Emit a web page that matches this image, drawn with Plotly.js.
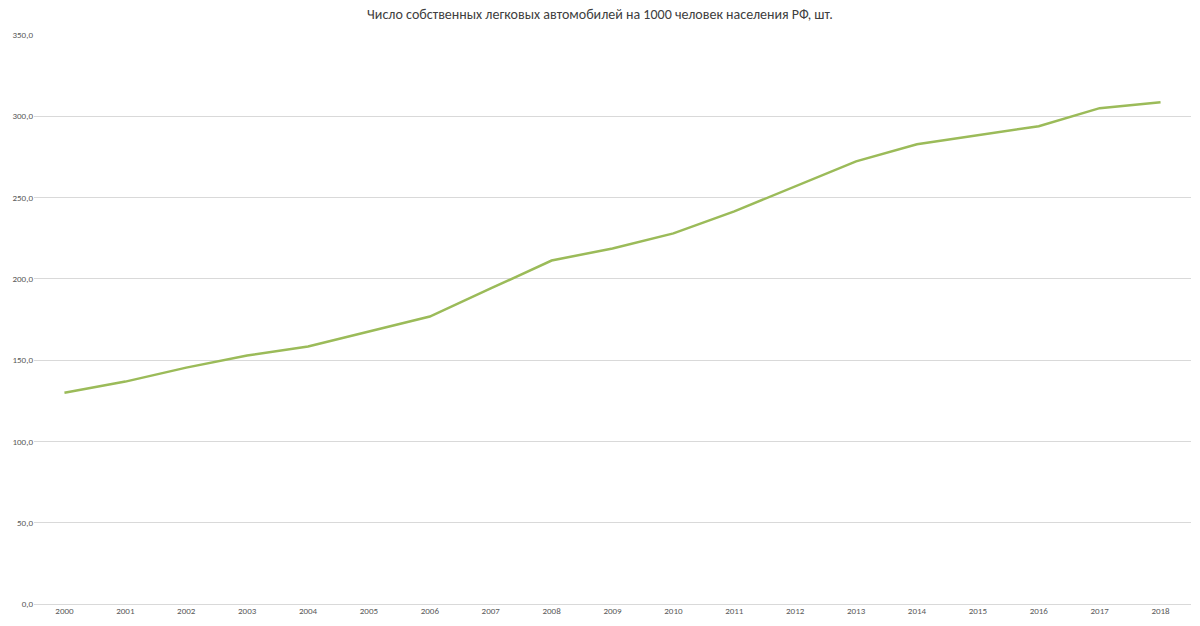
<!DOCTYPE html>
<html>
<head>
<meta charset="utf-8">
<script src="https://cdn.plot.ly/plotly-3.0.1.min.js"></script>
<style>html,body{margin:0;padding:0;background:#fff;}#chart{width:1200px;height:626px;}</style>
</head>
<body>
<div id="chart"></div>
<script>
const years = ['2000','2001','2002','2003','2004','2005','2006','2007','2008','2009','2010','2011','2012','2013','2014','2015','2016','2017','2018'];
const carsPer1000 = [130.0, 136.8, 145.4, 152.8, 158.4, 167.6, 176.8, 194.1, 211.3, 218.7, 228.0, 241.5, 257.0, 272.3, 282.8, 288.4, 293.9, 305.0, 308.7];
const yTicks = [0, 50, 100, 150, 200, 250, 300, 350];
const titleText = 'Число собственных легковых автомобилей на 1000 человек населения РФ, шт.';

Plotly.newPlot('chart', [{
  type: 'scatter',
  mode: 'lines',
  x: years,
  y: carsPer1000,
  line: {color: '#9BBB59', width: 2.5},
  hoverinfo: 'x+y'
}], {
  width: 1200,
  height: 626,
  margin: {l: 34, r: 9, t: 35, b: 22},
  paper_bgcolor: '#fff',
  plot_bgcolor: '#fff',
  separators: ', ',
  showlegend: false,
  font: {family: 'Carlito, Calibri, "Open Sans", sans-serif', color: '#595959', size: 9},
  title: {
    text: titleText,
    font: {family: 'Carlito, Calibri, "Open Sans", sans-serif', size: 14, color: '#404040'},
    x: 0.5, xanchor: 'center', y: 0.978, yanchor: 'middle'
  },
  xaxis: {
    type: 'category',
    range: [-0.5, 18.5],
    showgrid: false,
    showline: false,
    zeroline: false,
    ticks: '',
    tickfont: {size: 9, color: '#595959'},
    fixedrange: true
  },
  yaxis: {
    range: [0, 350],
    tickvals: yTicks,
    tickformat: '.1f',
    showgrid: true,
    gridcolor: '#d9d9d9',
    gridwidth: 1,
    zeroline: true,
    zerolinecolor: '#d9d9d9',
    zerolinewidth: 1,
    showline: false,
    ticks: '',
    ticklabelstandoff: 0,
    tickfont: {size: 9, color: '#595959'},
    fixedrange: true
  }
}, {displayModeBar: false, staticPlot: true});
</script>
</body>
</html>
